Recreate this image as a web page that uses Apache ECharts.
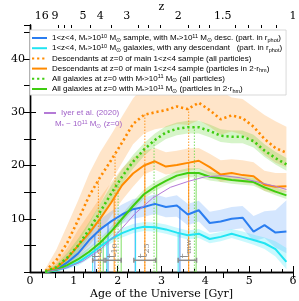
<!DOCTYPE html>
<html><head><meta charset="utf-8">
<script src="https://cdn.jsdelivr.net/npm/echarts@6/dist/echarts.min.js"></script>
<style>html,body{margin:0;padding:0;background:#fff}#c{width:299px;height:301px}</style>
</head><body><div id="c"></div>
<script>
// ---- data ----
const ages = [0.35,0.6,0.85,1.1,1.35,1.6,1.85,2.1,2.35,2.6,2.85,3.1,3.35,3.6,3.85,4.1,4.35,4.6,4.85,5.1,5.35,5.6,5.85];
const blueSfr = [0,0.4,1.8,3.5,6.0,8.0,9.5,10.8,11.8,12.2,12.8,12.2,12.5,10.8,11.6,9.2,9.5,10.0,10.2,7.6,8.8,7.4,7.6];
const blueLo  = [0,0.1,0.9,2.2,4.3,6.2,7.7,9.0,10.0,10.4,10.9,10.3,10.4,8.8,9.5,7.4,7.6,8.0,8.2,5.8,6.4,4.6,3.5];
const blueHi  = [0.2,1.0,3.0,5.0,7.8,9.9,11.4,12.7,13.7,14.0,14.6,14.0,14.4,12.8,13.4,11.3,11.7,12.2,12.4,10.5,11.4,11.6,13.5];
const cyanSfr = [0,0.3,0.9,1.8,3.2,4.8,6.2,7.3,8.1,8.5,8.4,8.0,7.4,6.9,7.2,6.2,6.6,7.2,6.6,6.0,5.4,4.3,1.9];
const cyanLo  = [0,0.1,0.5,1.2,2.5,4.0,5.4,6.5,7.3,7.7,7.6,7.2,6.6,6.1,6.4,5.4,5.8,6.4,5.8,5.1,4.3,2.9,0.5];
const cyanHi  = [0.1,0.6,1.4,2.5,4.0,5.7,7.1,8.2,9.0,9.4,9.3,8.9,8.3,7.8,8.1,7.1,7.5,8.1,7.6,7.0,6.5,5.8,4.5];
const descAllSfr = [0.2,2.2,5.5,9.8,14.3,17.8,21.0,24.3,27.8,29.5,30.0,30.4,31.1,30.6,31.8,30.4,28.7,29.4,28.9,27.3,25.0,23.3,22.4];
const descAllLo  = [0,0.8,3.0,5.5,9.0,12.8,17.0,20.5,24.0,26.0,26.8,27.2,27.8,27.6,28.5,27.3,25.8,26.4,25.8,24.2,22.0,20.5,19.7];
const descAllHi  = [0.6,4.2,8.8,13.5,18.5,22.5,25.8,29.2,32.6,35,36,37,37.5,37.5,38,36,34,32.8,32.5,31,29.5,28.3,27.3];
const descHmSfr = [0.1,0.8,2.5,5.0,7.3,10.0,13.0,16.3,18.5,20.0,20.8,19.8,20.1,20.5,20.9,19.7,18.3,18.6,18.2,18.0,16.4,16.0,16.1];
const descHmLo  = [0,0.2,1.2,3.0,5.0,7.5,10.5,13.5,16.0,18.3,19.2,18.3,18.6,19.0,19.4,18.2,16.9,17.2,16.8,16.6,15.2,14.8,15.0];
const descHmHi  = [0.4,1.8,4.5,8.0,11.0,14.0,16.8,19.5,21.5,22.8,23.3,22.5,22.8,23.2,23.3,22.2,21.0,21.2,21.0,20.6,19.0,18.6,18.6];
const allZ0Sfr = [0.1,0.9,2.7,5.0,8.0,11.3,14.7,17.9,20.7,23.0,24.8,26.2,26.9,27.2,27.2,26.5,25.6,25.4,25.4,24.6,22.8,21.4,20.2];
const allZ0Lo  = [0,0.5,1.8,3.8,6.6,9.8,13.2,16.5,19.4,21.8,23.6,25.0,25.7,26.0,26.0,25.3,24.4,24.2,24.2,23.4,21.6,20.2,19.0];
const allZ0Hi  = [0.3,1.4,3.6,6.3,9.4,12.8,16.2,19.3,22.0,24.2,26.0,27.4,28.1,28.4,28.4,27.7,26.8,26.6,26.6,25.8,24.0,22.6,21.4];
const allHmSfr = [0,0.4,1.3,2.4,3.8,5.5,7.6,10.0,12.4,14.6,16.0,17.1,18.1,18.6,18.6,17.9,17.6,17.3,17.1,16.9,15.9,15.1,14.4];
const allHmLo  = [0,0.2,0.9,1.8,3.1,4.7,6.8,9.2,11.6,13.8,15.2,16.3,17.3,17.8,17.8,17.2,16.9,16.6,16.4,16.2,15.2,14.4,13.7];
const allHmHi  = [0.1,0.6,1.8,3.1,4.6,6.3,8.5,10.9,13.3,15.5,16.9,18.0,19.0,19.5,19.5,18.8,18.4,18.1,17.9,17.7,16.7,15.9,15.2];
const iyerAges = [0.4,0.8,1.2,1.6,2.0,2.4,2.8,3.2,3.6,4.0,4.4,4.8,5.2,5.6,5.85];
const iyerSfr  = [0.1,0.7,2.0,4.2,7.3,11.0,13.9,15.9,17.0,17.9,18.1,17.7,16.9,16.1,15.5];
// t5, t10, t25, t_mw markers per sample (age, SFR at that age)
const blueT = [1.48,1.78,2.40,3.42];  const blueTTop = [7.0,9.2,11.8,12.3];
const cyanT = [1.43,1.75,2.41,3.38];  const cyanTTop = [3.4,5.6,8.1,7.5];
const descAllT = [1.56,1.94,2.62,3.62]; const descAllTTop = [17.3,22.1,29.6,30.7];
const descHmT  = [1.60,1.92,2.62,3.62]; const descHmTTop  = [10.0,13.7,20.0,20.6];
const allZ0T = [1.61,2.01,2.83,3.75];   const allZ0TTop = [11.4,16.5,24.7,27.2];
const allHmT = [1.67,2.08,2.89,3.79];   const allHmTTop = [6.2,9.8,16.2,18.6];
const tRangeLo = [1.43,1.73,2.37,3.38];
const tRangeHi = [1.69,2.08,2.87,3.80];
const tRangeY  = [2.2,2.2,2.2,2.2];
const tLabels  = ['5','10','25','mw'];
// axis ticks
const zLabels = ['16','9','5','4','3','2','1.5','1'];
const zAges   = [0.27,0.57,1.21,1.60,2.21,3.38,4.40,6.0];
const zMinorAges = [0.65,0.77,0.95,1.38,1.86,2.47,2.7,2.97,3.62,3.86,4.1,4.68,4.98,5.28,5.62];
const yTickLabels = [10,20,30,40];

// ---- chart ----
const SERIF = 'DejaVu Serif';
const SANS = 'Liberation Sans';
const C_BLUE='#2a7df0', C_CYAN='#22e4f2', C_OR='#ff8a00', C_GR='#3fcc10', C_PU='#b47ad6';
const N = ['n1','n2','n3','n4','n5','n6'];
const legendText = {
  n1: '1<z<4, M{s|*}>10{p|10} M{s|⊙} sample, with M{s|*}>10{p|11} M{s|⊙} desc. (part. in r{s|phot})',
  n2: '1<z<4, M{s|*}>10{p|10} M{s|⊙} galaxies, with any descendant   (part. in r{s|phot})',
  n3: 'Descendants at z=0 of main 1<z<4 sample (all particles)',
  n4: 'Descendants at z=0 of main 1<z<4 sample (particles in 2·r{s|hm})',
  n5: 'All galaxies at z=0 with M{s|*}>10{p|11} M{s|⊙} (all particles)',
  n6: 'All galaxies at z=0 with M{s|*}>10{p|11} M{s|⊙} (particles in 2·r{s|hm})'
};
const richSmall = {
  s:{fontSize:5.5, lineHeight:4, verticalAlign:'bottom', fontFamily:SANS},
  p:{fontSize:5.5, lineHeight:4, verticalAlign:'top', fontFamily:SANS}
};
function pts(xs, ys){ return xs.map((x,i)=>[x, ys[i]]); }
// band between lo and hi, drawn as one polygon through the axis scales
function band(lo, hi, color){
  return {type:'custom', data: ages.map((x,i)=>[x, lo[i], hi[i]]), z:1, silent:true, clip:true,
    renderItem:(p, api)=>{
      if (p.dataIndex !== 0) return null;
      const top = ages.map((x,i)=>api.coord([x, hi[i]]));
      const bot = ages.map((x,i)=>api.coord([x, lo[i]])).reverse();
      return {type:'polygon', shape:{points: top.concat(bot)}, style:{fill:color}};
    }};
}
function line(name, ys, color, dotted){
  return {type:'line', name:name, data: pts(ages, ys), symbol:'none', z:4, silent:true,
    itemStyle:{color:color},
    lineStyle:{color:color, width: dotted?2.6:2, type: dotted?[2.2,2.9]:'solid'}};
}
function marks(ts, tops, color, dotted){
  return {type:'custom', data: pts(ts, tops), z:3, silent:true,
    renderItem:(p, api)=>{
      const a = api.coord([api.value(0), 0]);
      const b = api.coord([api.value(0), api.value(1)]);
      return {type:'line', shape:{x1:a[0],y1:a[1],x2:b[0],y2:b[1]},
        style:{stroke:color, lineWidth:1, lineDash: dotted?[1.5,1.5]:null, opacity:0.85}};
    }};
}
const GRAY = '#8c8c8c';
const series = [
  band(descAllLo, descAllHi, 'rgba(255,150,40,0.25)'),
  band(descHmLo, descHmHi, 'rgba(255,150,40,0.25)'),
  band(allZ0Lo, allZ0Hi, 'rgba(90,210,40,0.25)'),
  band(allHmLo, allHmHi, 'rgba(90,210,40,0.25)'),
  band(blueLo, blueHi, 'rgba(60,140,250,0.22)'),
  band(cyanLo, cyanHi, 'rgba(40,230,250,0.25)'),
  marks(blueT, blueTTop, C_BLUE, false),
  marks(cyanT, cyanTTop, C_CYAN, false),
  marks(descAllT, descAllTTop, C_OR, true),
  marks(descHmT, descHmTTop, C_OR, false),
  marks(allZ0T, allZ0TTop, '#6ad84a', true),
  marks(allHmT, allHmTTop, '#6ad84a', false),
  {type:'custom', data: tRangeLo.map((l,i)=>[l, tRangeHi[i], tRangeY[i], i]), z:6, silent:true,
    renderItem:(p, api)=>{
      const a = api.coord([api.value(0), api.value(2)]);
      const b = api.coord([api.value(1), api.value(2)]);
      const lab = tLabels[api.value(3)];
      return {type:'group', children:[
        {type:'line', shape:{x1:a[0],y1:a[1],x2:b[0],y2:b[1]}, style:{stroke:GRAY, lineWidth:1.5}},
        {type:'line', shape:{x1:a[0],y1:a[1]-2.5,x2:a[0],y2:a[1]+2.5}, style:{stroke:GRAY, lineWidth:1.5}},
        {type:'line', shape:{x1:b[0],y1:b[1]-2.5,x2:b[0],y2:b[1]+2.5}, style:{stroke:GRAY, lineWidth:1.5}},
        {type:'group', x:(a[0]+b[0])/2 - 1, y:a[1]-2, rotation:Math.PI/2, children:[
          {type:'text', x:0, y:0, style:{text:'t', fontSize:12, fontFamily:SERIF, fill:GRAY, align:'left', verticalAlign:'middle'}},
          {type:'text', x:4.8, y:2.8, style:{text:lab, fontSize:8, fontFamily:SERIF, fill:GRAY, align:'left', verticalAlign:'middle'}}
        ]}
      ]};
    }},
  line(N[0], blueSfr, C_BLUE, false),
  line(N[1], cyanSfr, C_CYAN, false),
  line(N[2], descAllSfr, C_OR, true),
  line(N[3], descHmSfr, C_OR, false),
  line(N[4], allZ0Sfr, C_GR, true),
  line(N[5], allHmSfr, C_GR, false),
  {type:'line', name:'iyer', data: pts(iyerAges, iyerSfr), symbol:'none', z:4, silent:true,
    itemStyle:{color:C_PU}, lineStyle:{color:C_PU, width:1}}
];

const axisLine = {show:true, lineStyle:{color:'#000', width:1.4}};
const option = {
  animation:false,
  backgroundColor:'#fff',
  grid:{left:30, right:6, top:25, bottom:29, containLabel:false, outerBoundsMode:'none'},
  title:{text:'M{s|*} ~ 10{p|11} M{s|⊙} (z=0)', left:55, top:119, padding:0,
    textStyle:{fontSize:8, fontWeight:'normal', color:'#a060c8', fontFamily:SANS, lineHeight:10,
      rich:{s:{fontSize:5.5, lineHeight:4, verticalAlign:'bottom', color:'#a060c8'},
            p:{fontSize:5.5, lineHeight:4, verticalAlign:'top', color:'#a060c8'}}}},
  legend:[{
    data:N, orient:'vertical', left:30, top:30, itemWidth:15, itemHeight:8, itemGap:0.2,
    padding:[3,4,1,1], backgroundColor:'#fff', borderColor:'#cfcfcf', borderWidth:0.8,
    selectedMode:false, z:10, itemStyle:{opacity:0, color:'rgba(0,0,0,0)', borderWidth:0},
    formatter:(n)=>legendText[n],
    textStyle:{fontSize:8, fontFamily:SANS, color:'#000', lineHeight:10, rich:richSmall}
  },{
    data:['iyer'], orient:'vertical', left:43, top:108, itemWidth:12, itemHeight:8,
    padding:0, selectedMode:false, itemStyle:{opacity:0, color:'rgba(0,0,0,0)', borderWidth:0},
    formatter:()=> 'Iyer et al. (2020)',
    textStyle:{fontSize:8, fontFamily:SANS, color:'#a060c8', lineHeight:10}
  }],
  xAxis:[{
    type:'value', min:0, max:6, interval:1, position:'bottom',
    name:'Age of the Universe [Gyr]', nameLocation:'middle', nameGap:17, nameMoveOverlap:false,
    nameTextStyle:{fontFamily:SERIF, fontSize:11, color:'#000'},
    axisLine:axisLine, splitLine:{show:false},
    axisTick:{inside:true, length:6, lineStyle:{color:'#000', width:1}},
    minorTick:{show:true, splitNumber:4, length:3, lineStyle:{color:'#000', width:1}},
    axisLabel:{fontFamily:SERIF, fontSize:11, color:'#000', margin:4, showMinLabel:true, showMaxLabel:true}
  },{
    type:'value', min:0, max:6, position:'top',
    name:'z', nameLocation:'middle', nameGap:12, nameMoveOverlap:false,
    nameTextStyle:{fontFamily:SERIF, fontSize:11, color:'#000'},
    axisLine:axisLine, splitLine:{show:false},
    axisTick:{inside:true, length:6, customValues:zAges, lineStyle:{color:'#000', width:1}},
    axisLabel:{fontFamily:SERIF, fontSize:11, color:'#000', margin:3, customValues:zAges,
      formatter:(v)=>{ let k=0; zAges.forEach((a,i)=>{ if (Math.abs(a-v)<Math.abs(zAges[k]-v)) k=i; }); return zLabels[k]; }}
  },{
    type:'value', min:0, max:6, position:'top',
    axisLine:{show:false}, splitLine:{show:false},
    axisTick:{inside:true, length:3, customValues:zMinorAges, lineStyle:{color:'#000', width:1}},
    axisLabel:{show:false}
  }],
  yAxis:[{
    type:'value', min:0, max:46.4, interval:5, position:'left',
    name:'SFR [M{s|⊙}/yr]', nameLocation:'middle', nameGap:30, nameMoveOverlap:false,
    nameTextStyle:{fontFamily:SERIF, fontSize:11, color:'#000',
      rich:{s:{fontSize:7.5, fontFamily:SERIF, lineHeight:6, verticalAlign:'bottom'}}},
    axisLine:axisLine, splitLine:{show:false},
    axisTick:{inside:true, length:6, lineStyle:{color:'#000', width:1}},
    axisLabel:{fontFamily:SERIF, fontSize:11, color:'#000', margin:5, showMaxLabel:false,
      formatter:(v)=> yTickLabels.indexOf(v)>=0 ? String(v) : ''}
  },{
    type:'value', min:0, max:46.4, interval:5, position:'right',
    axisLine:axisLine, splitLine:{show:false},
    axisTick:{inside:true, length:6, lineStyle:{color:'#000', width:1}},
    axisLabel:{show:false}
  }],
  series: series
};
const chart = echarts.init(document.getElementById('c'), null, {renderer:'canvas'});
chart.setOption(option);
</script></body></html>
